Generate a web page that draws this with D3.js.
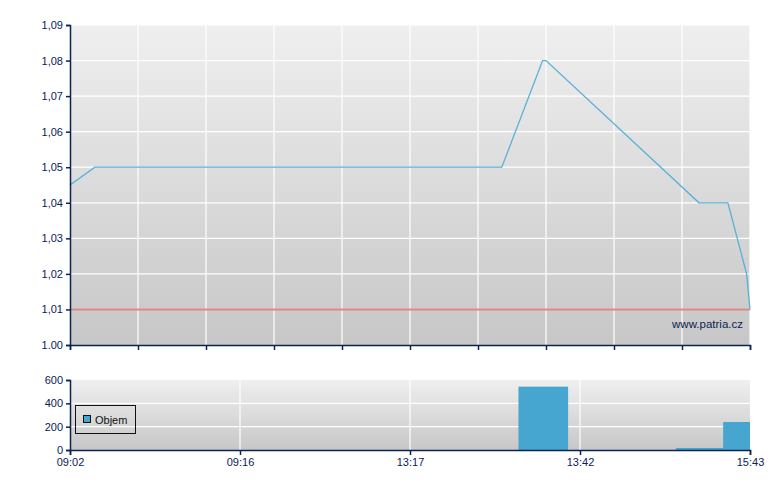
<!DOCTYPE html>
<html><head><meta charset="utf-8">
<script src="https://cdn.jsdelivr.net/npm/d3@7"></script>
<style>body{margin:0;background:#fff}svg{display:block;font-family:"Liberation Sans",Arial,sans-serif}</style>
</head><body>
<svg id="c" width="780" height="490"></svg>
<script>
// Price line: position along the session axis (0..200) and price
const pricePos = [0, 7.35, 127, 139, 140, 185, 193.5, 199, 200];
const priceVal = [1.045, 1.05, 1.05, 1.08, 1.08, 1.04, 1.04, 1.02, 1.01];
const refLevel = 1.01;
const priceTicks = [1.00, 1.01, 1.02, 1.03, 1.04, 1.05, 1.06, 1.07, 1.08, 1.09];
const priceTickLabels = ["1.00", "1,01", "1,02", "1,03", "1,04", "1,05", "1,06", "1,07", "1,08", "1,09"];
const priceGridX = [0, 20, 40, 60, 80, 100, 120, 140, 160, 180, 200];
// Volume bars: start/end position and volume
const volStart = [131.9, 178.2, 192.1];
const volEnd = [146.5, 192.1, 200];
const volVal = [543, 17, 240];
const volTicks = [0, 200, 400, 600];
const timePos = [0, 50, 100, 150, 200];
const timeLabels = ["09:02", "09:16", "13:17", "13:42", "15:43"];

const svg = d3.select("#c");
const navy = "#0b2255";
const defs = svg.append("defs");
const g = defs.append("linearGradient").attr("id", "bg").attr("x1", 0).attr("x2", 0).attr("y1", 0).attr("y2", 1);
g.append("stop").attr("offset", "0%").attr("stop-color", "#efefef");
g.append("stop").attr("offset", "100%").attr("stop-color", "#c7c7c7");

const L = 70, R = 750;
const x = d3.scaleLinear().domain([0, 200]).range([L, R]);
const y = d3.scaleLinear().domain([1.00, 1.09]).range([345, 25]);
const yv = d3.scaleLinear().domain([0, 600]).range([450, 380]);

// ---- upper chart
svg.append("rect").attr("x", L).attr("y", 25).attr("width", R - L).attr("height", 320).attr("fill", "url(#bg)");
svg.append("g").selectAll("line").data(priceTicks.slice(1)).join("line")
  .attr("x1", L).attr("x2", R).attr("y1", d => y(d)).attr("y2", d => y(d))
  .attr("stroke", "#fff").attr("stroke-width", 1.2);
svg.append("g").selectAll("line").data(priceGridX.slice(1)).join("line")
  .attr("x1", d => x(d)).attr("x2", d => x(d)).attr("y1", 25).attr("y2", 345)
  .attr("stroke", "#fff").attr("stroke-width", 1.2);
svg.append("line").attr("x1", L).attr("x2", R).attr("y1", y(refLevel)).attr("y2", y(refLevel))
  .attr("stroke", "#e08686").attr("stroke-width", 2);
svg.append("path").datum(pricePos.map((p, i) => [p, priceVal[i]]))
  .attr("d", d3.line().x(d => x(d[0])).y(d => y(d[1])))
  .attr("fill", "none").attr("stroke", "#5aafd6").attr("stroke-width", 1.3);
svg.append("text").attr("x", 743).attr("y", 328).attr("text-anchor", "end")
  .attr("font-size", 11.5).attr("fill", navy).text("www.patria.cz");

const ay = svg.append("g").attr("transform", `translate(${L},0)`)
  .call(d3.axisLeft(y).tickValues(priceTicks).tickSize(4).tickPadding(3).tickFormat((d, i) => priceTickLabels[i]));
const ax = svg.append("g").attr("transform", `translate(0,345)`)
  .call(d3.axisBottom(x).tickValues(priceGridX).tickSize(5).tickFormat(""));

// ---- lower chart
svg.append("rect").attr("x", L).attr("y", 380).attr("width", R - L).attr("height", 70).attr("fill", "url(#bg)");
svg.append("g").selectAll("line").data(volTicks.slice(1, 3)).join("line")
  .attr("x1", L).attr("x2", R).attr("y1", d => yv(d)).attr("y2", d => yv(d))
  .attr("stroke", "#fff").attr("stroke-width", 1.2);
svg.append("g").selectAll("line").data(timePos.slice(1, 4)).join("line")
  .attr("x1", d => x(d)).attr("x2", d => x(d)).attr("y1", 380).attr("y2", 450)
  .attr("stroke", "#fff").attr("stroke-width", 1.2);
svg.append("g").selectAll("rect").data(volVal).join("rect")
  .attr("x", (d, i) => x(volStart[i])).attr("width", (d, i) => x(volEnd[i]) - x(volStart[i]))
  .attr("y", d => yv(d)).attr("height", d => yv(0) - yv(d)).attr("fill", "#46a6cf");

const ayv = svg.append("g").attr("transform", `translate(${L},0)`)
  .call(d3.axisLeft(yv).tickValues(volTicks).tickSize(4).tickPadding(3).tickFormat(d3.format("d")));
const axv = svg.append("g").attr("transform", `translate(0,450)`)
  .call(d3.axisBottom(x).tickValues(timePos).tickSize(5).tickPadding(3).tickFormat((d, i) => timeLabels[i]));

[ay, ax, ayv, axv].forEach(a => {
  a.select(".domain").attr("stroke", navy).attr("stroke-width", 1.5);
  a.selectAll(".tick line").attr("stroke", navy).attr("stroke-width", 1.5);
  a.selectAll("text").attr("fill", navy).attr("font-size", 11).attr("font-family", '"Liberation Sans",Arial,sans-serif');
});

// legend
const lg = svg.append("g");
lg.append("rect").attr("x", 75.5).attr("y", 405.5).attr("width", 60).attr("height", 28)
  .attr("fill", "none").attr("stroke", "#111").attr("stroke-width", 1);
lg.append("rect").attr("x", 83.5).attr("y", 415.5).attr("width", 7).attr("height", 7)
  .attr("fill", "#46a6cf").attr("stroke", "#111").attr("stroke-width", 1);
lg.append("text").attr("x", 95).attr("y", 424).attr("font-size", 11).attr("fill", "#111").text("Objem");
</script>
</body></html>
